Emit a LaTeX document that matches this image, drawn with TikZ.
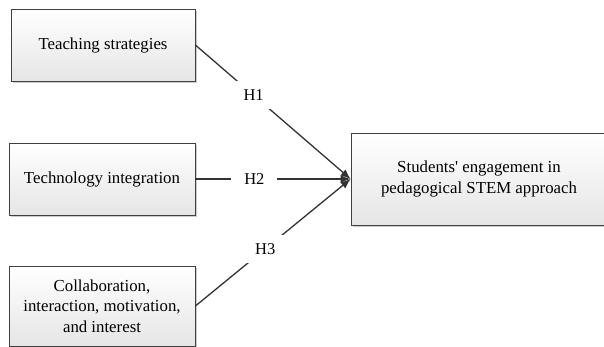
\documentclass[tikz,border=0pt]{standalone}
\usepackage{fontspec}
\setmainfont{Liberation Serif}
\usetikzlibrary{arrows.meta,shadows}

\tikzset{
  factor/.style={draw=black!75, line width=0.8pt, top color=white, bottom color=black!10,
    drop shadow={shadow xshift=2pt, shadow yshift=-2pt, fill=black!25, opacity=0.8},
    align=center, inner sep=0pt, font=\fontsize{16.8}{20.5}\selectfont},
  hyp/.style={fill=white, inner sep=0pt, minimum width=46pt, minimum height=28pt,
    font=\fontsize{16.5}{18}\selectfont},
  path/.style={draw=black!80, line width=1.3pt, -{Latex[length=10pt,width=8pt]}},
}

\begin{document}
\begin{tikzpicture}[x=1pt, y=-1pt]
    \useasboundingbox (0, 0) rectangle (604, 346);

    % exogenous constructs
    \node[factor, minimum width=184pt, minimum height=72pt] (ts) at (103, 45) {Teaching strategies};
    \node[factor, minimum width=186pt, minimum height=72pt] (ti) at (102, 179) {Technology integration};
    \node[factor, minimum width=186pt, minimum height=80pt] (cim) at (102, 306)
        {Collaboration,\\interaction, motivation,\\and interest};

    % endogenous construct
    \node[factor, minimum width=256pt, minimum height=92pt] (eng) at (479, 179)
        {Students\textquotesingle{} engagement in\\pedagogical STEM approach};

    % hypotheses
    \draw[path] (ts.east) -- node[hyp, pos=0.375]{H1} (eng.west);
    \draw[path] (ti.east) -- node[hyp, pos=0.38]{H2} (eng.west);
    \draw[path] (cim.east) -- node[hyp, pos=0.45]{H3} (eng.west);
  \end{tikzpicture}
\end{document}
